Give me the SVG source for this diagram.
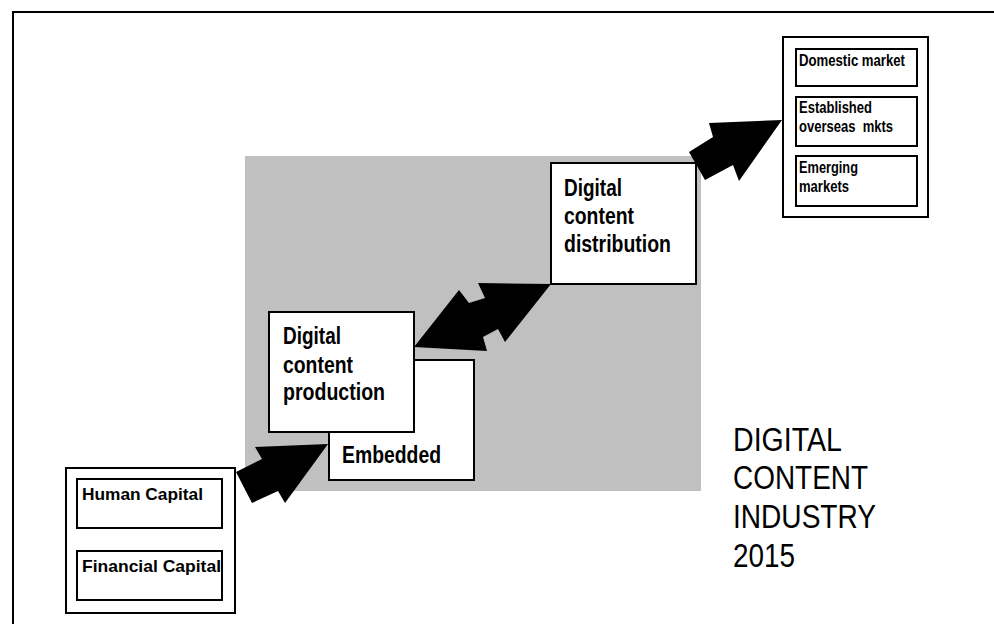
<svg xmlns="http://www.w3.org/2000/svg" width="994" height="624" viewBox="0 0 994 624">
  <style>
    .box { fill: #ffffff; stroke: #000000; stroke-width: 2; }
    .frame { fill: none; stroke: #000000; stroke-width: 2; }
    .lbl { font-family: "Liberation Sans", Arial, sans-serif; font-weight: bold; fill: #000000; }
    .big { font-size: 23px; }
    .small { font-size: 16px; }
    .mid { font-size: 17px; }
    .title { font-family: "Liberation Sans", Arial, sans-serif; font-size: 34px; fill: #000000; }
    .arrow { fill: #000000; stroke: none; }
  </style>

  <rect width="994" height="624" fill="#ffffff"/>

  <!-- page frame: top and left rules -->
  <path class="frame" d="M994 12 H13 V624"/>

  <!-- shaded industry area -->
  <rect x="245" y="156" width="456" height="335" fill="#c0c0c0"/>

  <g id="connectors">
    <!-- inputs to production -->
    <polygon class="arrow" points="236,472 262,459 255,447 328,444 285,503 278,491 252,503"/>
    <!-- production and distribution, both ways -->
    <polygon class="arrow" points="414,347 459,290 469,303 485,298 478,283 551,284 505,342 498,329 483,337 487,351"/>
    <!-- distribution to markets -->
    <polygon class="arrow" points="689,152 713,137 709,123 782,120 739,181 733,165 705,180"/>
  </g>

  <g id="inputs">
    <rect class="box" x="66" y="468" width="169" height="145"/>
    <rect class="box" x="77" y="479" width="145" height="49"/>
    <rect class="box" x="77" y="551" width="145" height="49"/>
    <text class="lbl mid" x="82" y="500" textLength="121" lengthAdjust="spacingAndGlyphs">Human Capital</text>
    <text class="lbl mid" x="82" y="572" textLength="139" lengthAdjust="spacingAndGlyphs">Financial Capital</text>
  </g>

  <g id="embedded">
    <rect class="box" x="329" y="360" width="145" height="120"/>
    <text class="lbl big" x="342" y="463" textLength="99" lengthAdjust="spacingAndGlyphs">Embedded</text>
  </g>

  <g id="production">
    <rect class="box" x="269" y="312" width="145" height="120"/>
    <text class="lbl big" x="283" y="344" textLength="58" lengthAdjust="spacingAndGlyphs">Digital</text>
    <text class="lbl big" x="283" y="373" textLength="70" lengthAdjust="spacingAndGlyphs">content</text>
    <text class="lbl big" x="283" y="400" textLength="102" lengthAdjust="spacingAndGlyphs">production</text>
  </g>

  <g id="distribution">
    <rect class="box" x="551" y="163" width="145" height="121"/>
    <text class="lbl big" x="564" y="196" textLength="58" lengthAdjust="spacingAndGlyphs">Digital</text>
    <text class="lbl big" x="564" y="224" textLength="70" lengthAdjust="spacingAndGlyphs">content</text>
    <text class="lbl big" x="564" y="252" textLength="107" lengthAdjust="spacingAndGlyphs">distribution</text>
  </g>

  <g id="markets">
    <rect class="box" x="783" y="37" width="145" height="180"/>
    <rect class="box" x="796" y="49" width="121" height="37"/>
    <rect class="box" x="796" y="97" width="121" height="49"/>
    <rect class="box" x="796" y="156" width="121" height="50"/>
    <text class="lbl small" x="799" y="66" textLength="106" lengthAdjust="spacingAndGlyphs">Domestic market</text>
    <text class="lbl small" x="799" y="113" textLength="73" lengthAdjust="spacingAndGlyphs">Established</text>
    <text class="lbl small" x="799" y="132" textLength="94" lengthAdjust="spacingAndGlyphs" xml:space="preserve">overseas  mkts</text>
    <text class="lbl small" x="799" y="173" textLength="59" lengthAdjust="spacingAndGlyphs">Emerging</text>
    <text class="lbl small" x="799" y="192" textLength="50" lengthAdjust="spacingAndGlyphs">markets</text>
  </g>

  <g id="title">
    <text class="title" x="733" y="451" textLength="109" lengthAdjust="spacingAndGlyphs">DIGITAL</text>
    <text class="title" x="733" y="489" textLength="135" lengthAdjust="spacingAndGlyphs">CONTENT</text>
    <text class="title" x="733" y="528" textLength="143" lengthAdjust="spacingAndGlyphs">INDUSTRY</text>
    <text class="title" x="733" y="567" textLength="62" lengthAdjust="spacingAndGlyphs">2015</text>
  </g>
</svg>
